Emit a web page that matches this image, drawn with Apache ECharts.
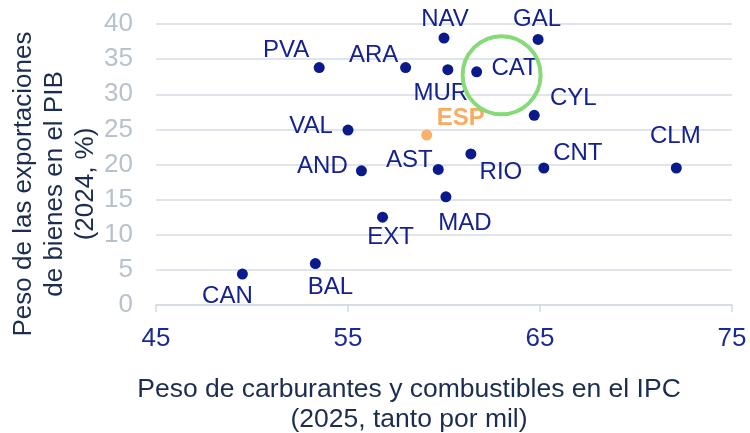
<!DOCTYPE html>
<html>
<head>
<meta charset="utf-8">
<script src="https://cdn.jsdelivr.net/npm/echarts@6/dist/echarts.min.js"></script>
<style>
  html, body { margin: 0; padding: 0; background: #fff; }
  #chart { width: 750px; height: 433px; }
</style>
</head>
<body>
<div id="chart"></div>
<script>
// regiones y valores
var regions = ['NAV', 'GAL', 'PVA', 'ARA', 'MUR', 'CAT', 'CYL', 'VAL', 'ESP', 'RIO', 'AND', 'AST', 'CNT', 'CLM', 'MAD', 'EXT', 'BAL', 'CAN'];
var fuelWeight = [60.0, 64.9, 53.5, 58.0, 60.2, 61.7, 64.7, 55.0, 59.1, 61.4, 55.7, 59.7, 65.2, 72.1, 60.1, 56.8, 53.3, 49.5];
var exportShare = [38.0, 37.8, 33.8, 33.8, 33.5, 33.2, 27.0, 24.9, 24.2, 21.5, 19.1, 19.3, 19.5, 19.5, 15.4, 12.5, 5.9, 4.4];
var xTicks = [45, 55, 65, 75];
var yTicks = [0, 5, 10, 15, 20, 25, 30, 35, 40];
var highlight = [63.0, 32.7]; // circulo verde sobre CAT
var xTitle = 'Peso de carburantes y combustibles en el IPC\n(2025, tanto por mil)';
var yTitle = 'Peso de las exportaciones\nde bienes en el PIB\n(2024, %)';

// desplazamiento de cada etiqueta respecto al punto (px)
var labelShift = {
    NAV: [1, -19], GAL: [-1, -20], PVA: [-33, -17], ARA: [-32, -12], MUR: [-7, 24],
    CAT: [38, -3], CYL: [39, -17], VAL: [-37, -4], ESP: [34, -17], RIO: [30, 18],
    AND: [-39, -4], AST: [-29, -9], CNT: [34, -15], CLM: [-1, -32], MAD: [19, 27],
    EXT: [8, 20], BAL: [15, 24], CAN: [-15, 22]
}

var FONT = '"Liberation Sans", Arial, sans-serif'
var navy = '#0a1a8a'
var orange = '#f9ab62'

var chart = echarts.init(document.getElementById('chart'), null, { renderer: 'canvas' });

var pts = regions.map(function (name, i) {
    var isEsp = name === 'ESP'
    return {
        name: name,
        value: [fuelWeight[i], exportShare[i]],
        itemStyle: { color: isEsp ? '#fbb06c' : navy, opacity: 1 },
        label: {
            offset: labelShift[name],
            color: isEsp ? orange : '#14218e',
            fontWeight: isEsp ? 'bold' : 'normal'
        }
    }
})

chart.setOption({
    animation: false,
    textStyle: { fontFamily: FONT },
    grid: { left: 156, right: 18, top: 24, bottom: 128 },
    xAxis: {
        type: 'value',
        min: xTicks[0],
        max: xTicks[xTicks.length - 1],
        interval: xTicks[1] - xTicks[0],
        splitLine: { show: false },
        axisLine: { show: true, lineStyle: { color: '#d3dae2', width: 1.5 } },
        axisTick: { show: true, length: 7, lineStyle: { color: '#d3dae2', width: 1.5 } },
        axisLabel: { color: '#1b2a92', fontSize: 26, margin: 21, fontFamily: FONT }
    },
    yAxis: {
        type: 'value',
        min: yTicks[0],
        max: yTicks[yTicks.length - 1],
        interval: yTicks[1] - yTicks[0],
        axisLine: { show: false },
        axisTick: { show: false },
        splitLine: { lineStyle: { color: '#d5dce4', width: 1.5 } },
        axisLabel: { color: '#b8c2cc', fontSize: 26, margin: 23, fontFamily: FONT }
    },
    series: [
        {
            type: 'scatter',
            symbolSize: 11,
            data: pts,
            z: 3,
            itemStyle: { opacity: 1 },
            label: {
                show: true,
                position: 'inside',
                formatter: '{b}',
                fontSize: 24,
                fontFamily: FONT
            }
        },
        {
            type: 'scatter',
            silent: true,
            symbolSize: 78,
            z: 4,
            data: [highlight],
            itemStyle: { color: 'rgba(0,0,0,0)', borderColor: '#86da78', borderWidth: 4, opacity: 1 }
        }
    ],
    graphic: [
        {
            type: 'text',
            x: 55, y: 184,
            rotation: Math.PI / 2,
            style: {
                text: yTitle,
                fill: '#1d2d4f',
                font: '26px ' + FONT,
                lineHeight: 31,
                align: 'center',
                verticalAlign: 'middle'
            }
        },
        {
            type: 'text',
            x: 409, y: 405,
            style: {
                text: xTitle,
                fill: '#1d2d4f',
                font: '26.5px ' + FONT,
                lineHeight: 30,
                align: 'center',
                verticalAlign: 'middle'
            }
        }
    ]
})
</script>
</body>
</html>
